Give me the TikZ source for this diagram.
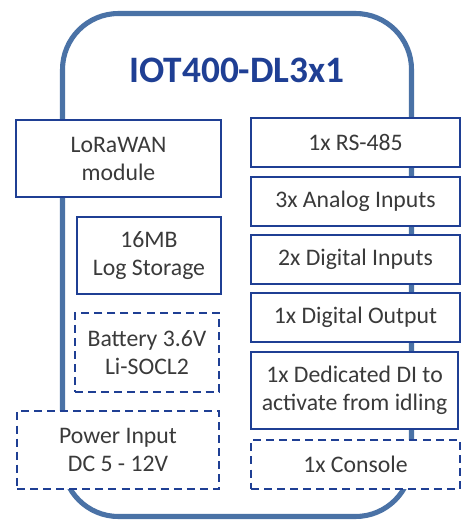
\documentclass[tikz,border=0pt]{standalone}
\usepackage{fontspec}
\setmainfont{Carlito}
\usetikzlibrary{positioning}
\definecolor{frameblue}{HTML}{4A72A6}
\definecolor{boxblue}{HTML}{1F3F94}
\definecolor{textgray}{HTML}{3A3A3A}
\begin{document}
\begin{tikzpicture}[x=0.75pt, y=-0.75pt,
    block/.style={draw=boxblue, line width=1.9pt, fill=white, text=textgray,
      align=center, inner sep=0pt, font=\fontsize{17.8}{21}\selectfont},
    optblock/.style={block, dash pattern=on 6pt off 3.8pt}]
    \useasboundingbox (0,0) rectangle (467,520);
    \draw [frameblue, line width=3.8pt, rounded corners=42pt] (62.5,13.5) rectangle (411.5,516.5); % housing
    \node [boxblue, font=\fontsize{28}{32}\selectfont\bfseries] (title) at (237,70) {IOT400-DL3x1};
    % left column
    \node [block, minimum width=205*0.75pt, minimum height=77*0.75pt] (lora) at (118.5,158.5) {LoRaWAN\\module};
    \node [block, minimum width=144*0.75pt, minimum height=77*0.75pt] (storage) at (149,255.5) {16MB\\Log Storage};
    \node [optblock, minimum width=144*0.75pt, minimum height=79*0.75pt] (battery) at (147,352.5) {Battery 3.6V\\Li-SOCL2};
    \node [optblock, minimum width=202*0.75pt, minimum height=78*0.75pt] (power) at (118,450) {Power Input\\DC 5 - 12V};
    % right column
    \node [block, minimum width=209*0.75pt, minimum height=49*0.75pt] (rs) at (355.5,142.5) {1x RS-485};
    \node [block, minimum width=209*0.75pt, minimum height=49*0.75pt] (ain) at (355.5,201.5) {3x Analog Inputs};
    \node [block, minimum width=209*0.75pt, minimum height=49*0.75pt] (din) at (355.5,259.5) {2x Digital Inputs};
    \node [block, minimum width=209*0.75pt, minimum height=49*0.75pt] (dout) at (355.5,317.5) {1x Digital Output};
    \node [block, minimum width=207*0.75pt, minimum height=77*0.75pt] (wake) at (354.5,390.5) {1x Dedicated DI to\\activate from idling};
    \node [optblock, minimum width=209*0.75pt, minimum height=49*0.75pt] (console) at (355.5,464.5) {1x Console};
\end{tikzpicture}
\end{document}
